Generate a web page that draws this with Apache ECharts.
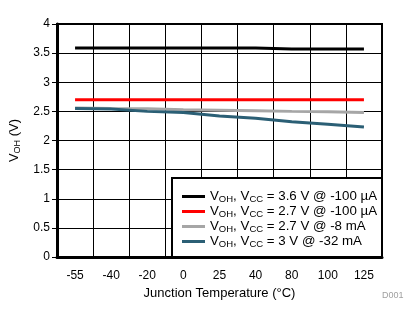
<!DOCTYPE html>
<html>
<head>
<meta charset="utf-8">
<script src="https://cdn.jsdelivr.net/npm/echarts@6/dist/echarts.min.js"></script>
<style>html,body{margin:0;padding:0;background:#fff}#c{width:420px;height:324px}</style>
</head>
<body>
<div id="c"></div>
<script>
const categories = ["-55","-40","-20","0","25","40","80","100","125"];
const yTicks = [0,0.5,1,1.5,2,2.5,3,3.5,4];
const seriesNames = [
  "VOH, VCC = 3.6 V @ -100 µA",
  "VOH, VCC = 2.7 V @ -100 µA",
  "VOH, VCC = 2.7 V @ -8 mA",
  "VOH, VCC = 3 V @ -32 mA"
];
const legendRich = [
  "{n|V}{s|OH}{n|, V}{s|CC}{n| = 3.6 V @ -100 µA}",
  "{n|V}{s|OH}{n|, V}{s|CC}{n| = 2.7 V @ -100 µA}",
  "{n|V}{s|OH}{n|, V}{s|CC}{n| = 2.7 V @ -8 mA}",
  "{n|V}{s|OH}{n|, V}{s|CC}{n| = 3 V @ -32 mA}"
];
const voh36_100uA = [3.59,3.59,3.59,3.59,3.59,3.59,3.57,3.57,3.57];
const voh27_100uA = [2.70,2.70,2.70,2.70,2.70,2.70,2.70,2.70,2.70];
const voh27_8mA   = [2.56,2.55,2.545,2.53,2.52,2.51,2.50,2.495,2.48];
const voh3_32mA   = [2.55,2.54,2.50,2.48,2.42,2.38,2.32,2.28,2.23];
const colors = ["#000000","#ff0000","#a6a6a6","#2b5f75"];
const values = [voh36_100uA, voh27_100uA, voh27_8mA, voh3_32mA];

const FONT = "Liberation Sans, Arial, sans-serif";
const chart = echarts.init(document.getElementById('c'), null, {renderer:'canvas'});
chart.setOption({
  animation: false,
  backgroundColor: '#fff',
  textStyle: {fontFamily: FONT},
  grid: {left: 52, right: 38, top: 24, bottom: 67, show: true, borderColor: '#000', borderWidth: 2, backgroundColor: 'transparent'},
  xAxis: {
    type: 'category', data: categories, boundaryGap: true,
    axisLine: {lineStyle: {color: '#000', width: 3}},
    axisTick: {show: false},
    axisLabel: {color: '#000', fontSize: 12, fontFamily: FONT, margin: 13},
    splitLine: {show: true, lineStyle: {color: '#000', width: 1}},
    name: 'Junction Temperature (°C)', nameLocation: 'middle', nameGap: 27,
    nameTextStyle: {color: '#000', fontSize: 13, fontFamily: FONT}
  },
  yAxis: {
    type: 'value', min: 0, max: 4, interval: 0.5,
    axisLine: {show: true, lineStyle: {color: '#000', width: 3}},
    axisTick: {show: true, length: 5, lineStyle: {color: '#000', width: 1}},
    axisLabel: {color: '#000', fontSize: 12, fontFamily: FONT, margin: 7},
    splitLine: {show: true, lineStyle: {color: '#000', width: 1}},
    name: '{n|V}{s|OH}{n| (V)}', nameLocation: 'middle', nameGap: 35,
    nameTextStyle: {color: '#000', fontFamily: FONT, rich: {
      n: {fontSize: 13, color: '#000', fontFamily: FONT},
      s: {fontSize: 9, color: '#000', fontFamily: FONT, padding: [6,0,0,0]}
    }}
  },
  legend: {
    orient: 'vertical', left: 177, top: 184,
    icon: 'rect', itemWidth: 23, itemHeight: 3, itemGap: 0,
    data: seriesNames,
    formatter: function(name){ return legendRich[seriesNames.indexOf(name)]; },
    textStyle: {color: '#000', fontFamily: FONT, rich: {
      n: {fontSize: 13.3, lineHeight: 15, color: '#000', fontFamily: FONT},
      s: {fontSize: 9.5, lineHeight: 15, color: '#000', fontFamily: FONT, padding: [5,0,0,0]}
    }},
    z: 10
  },
  graphic: [
    {type: 'rect', z: 5, shape: {x: 172, y: 178, width: 210, height: 79}, style: {fill: '#fff', stroke: '#000', lineWidth: 2}},
    {type: 'text', left: 382, top: 291, z: 5, style: {text: 'D001', fill: '#a0a0a0', fontSize: 9, fontFamily: FONT}}
  ],
  series: values.map((v, i) => ({
    name: seriesNames[i], type: 'line', data: v, symbol: 'none',
    lineStyle: {color: colors[i], width: 3}, itemStyle: {color: colors[i]}
  }))
});
</script>
</body>
</html>
